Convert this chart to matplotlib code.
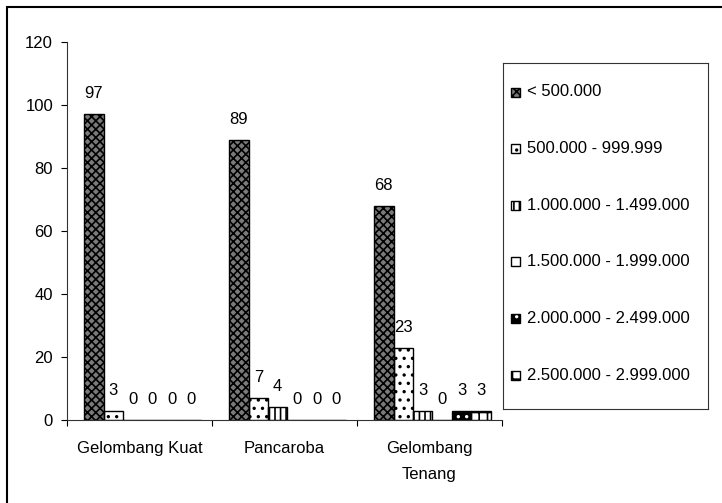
import matplotlib
matplotlib.use("Agg")
import matplotlib.pyplot as plt
from matplotlib.patches import Rectangle
import numpy as np

plt.rcParams["font.family"] = ["Liberation Sans", "DejaVu Sans"]
plt.rcParams["hatch.linewidth"] = 1.2

categories = ["Gelombang Kuat", "Pancaroba", "Gelombang\nTenang"]
series_names = ["< 500.000", "500.000 - 999.999", "1.000.000 - 1.499.000",
                "1.500.000 - 1.999.000", "2.000.000 - 2.499.000",
                "2.500.000 - 2.999.000"]
s1 = [97, 89, 68]
s2 = [3, 7, 23]
s3 = [0, 4, 3]
s4 = [0, 0, 0]
s5 = [0, 0, 3]
s6 = [0, 0, 3]
series_values = [s1, s2, s3, s4, s5, s6]
y_ticks = [0, 20, 40, 60, 80, 100, 120]

# fill colour, hatch, hatch colour for each series
styles = [
    ("#7a7a7a", "xxxx", "black"),
    ("white", "..", "black"),
    ("white", "|||", "black"),
    ("white", "", "black"),
    ("black", "..", "white"),
    ("white", "++", "black"),
]

W, H = 722, 503
fig = plt.figure(figsize=(W / 100, H / 100), dpi=100)
fig.patch.set_facecolor("white")

ax = fig.add_axes([67 / W, 1 - 420 / H, (502 - 67) / W, (420 - 42) / H])

x = np.arange(len(categories))
n = len(series_values)
bw = 0.134
offsets = (np.arange(n) - (n - 1) / 2) * bw + 0.02

def draw_bars(axis, xs, heights, width, style):
    fc, hatch, hc = style
    axis.bar(xs, heights, width, color=fc, hatch=hatch, edgecolor=hc,
             linewidth=0, zorder=2)
    axis.bar(xs, heights, width, facecolor="none", edgecolor="black",
             linewidth=1.0, zorder=3)

for i, vals in enumerate(series_values):
    xs = x + offsets[i]
    draw_bars(ax, xs, vals, bw, styles[i])
    for xi, v in zip(xs, vals):
        ax.annotate(f"{v}", (xi, v), xytext=(0, 11.5), textcoords="offset points",
                    ha="center", va="baseline", fontsize=12)

ax.set_xlim(-0.5, 2.5)
ax.set_ylim(0, 120)
ax.set_yticks(y_ticks)
ax.set_yticklabels([str(t) for t in y_ticks])
ax.set_xticks(x)
ax.set_xticklabels(categories, linespacing=1.9)
ax.set_xticks([-0.5, 0.5, 1.5, 2.5], minor=True)
ax.tick_params(axis="x", which="major", length=0, pad=15, labelsize=12)
ax.tick_params(axis="x", which="minor", length=4, width=0.8, direction="out")
ax.tick_params(axis="y", length=4, width=0.8, direction="out", pad=6, labelsize=12)
for side in ("top", "right"):
    ax.spines[side].set_visible(False)
for side in ("left", "bottom"):
    ax.spines[side].set_linewidth(0.8)
    ax.spines[side].set_color("#333333")
ax.set_facecolor("white")

# legend panel
lx0, ly0, lx1, ly1 = 503, 63, 708, 409
lw, lh = lx1 - lx0, ly1 - ly0
lax = fig.add_axes([lx0 / W, 1 - ly1 / H, lw / W, lh / H])
lax.set_xlim(0, lw)
lax.set_ylim(lh, 0)
lax.set_xticks([])
lax.set_yticks([])
for sp in lax.spines.values():
    sp.set_linewidth(0.8)
    sp.set_color("#333333")
for i, name in enumerate(series_names):
    yc = 92 + 56.6 * i - ly0
    fc, hatch, hc = styles[i]
    lax.add_patch(Rectangle((8, yc - 4.5), 9, 9, facecolor=fc, hatch=hatch,
                            edgecolor=hc, linewidth=0))
    lax.add_patch(Rectangle((8, yc - 4.5), 9, 9, facecolor="none",
                            edgecolor="black", linewidth=1.0))
    lax.text(24, yc, name, va="center", ha="left", fontsize=12)

# outer chart frame (runs past the right and bottom edges)
fig.patches.append(Rectangle((7 / W, -0.5), 3.0, 1 - 7 / H + 0.5,
                             transform=fig.transFigure, fill=False,
                             edgecolor="black", linewidth=1.5))

fig.savefig("out.png", dpi=100, facecolor="white")
